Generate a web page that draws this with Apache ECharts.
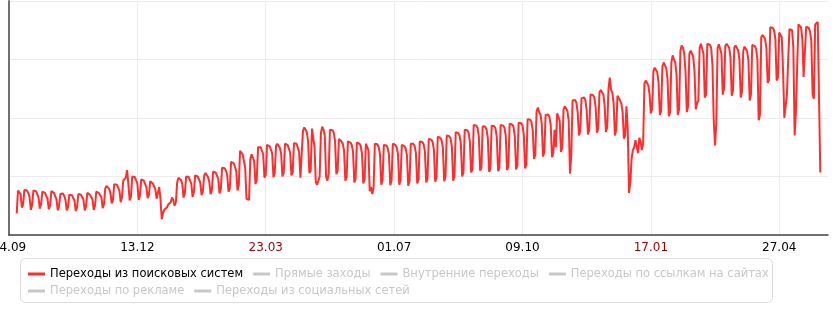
<!DOCTYPE html>
<html>
<head>
<meta charset="utf-8">
<script src="https://cdn.jsdelivr.net/npm/echarts@6/dist/echarts.min.js"></script>
<style>html,body{margin:0;padding:0;background:#fff}#c{width:837px;height:319px}</style>
</head>
<body>
<div id="c"></div>
<script>
// Daily category axis: 04.09.2013 .. 04.06.2015 (639 days)
const startDate = '2013-09-04';
const dayCount = 639;
const tickLabels = ['04.09', '13.12', '23.03', '01.07', '09.10', '17.01', '27.04'];
const weekendTicks = ['23.03', '17.01'];

const seriesNames = [
  'Переходы из поисковых систем',
  'Прямые заходы',
  'Внутренние переходы',
  'Переходы по ссылкам на сайтах',
  'Переходы по рекламе',
  'Переходы из социальных сетей'
];

// Search-engine visits per day (null = no data)
const searchVisits = [
  null,null,null,null,null,null,
  370,760,740,700,470,520,
  770,750,760,720,650,430,510,
  760,740,750,700,640,450,530,
  740,760,720,700,620,440,500,
  750,730,720,690,610,420,500,
  700,690,710,670,600,420,480,
  690,700,680,660,590,410,470,
  700,680,690,650,600,420,490,
  720,700,690,670,610,430,500,
  740,730,720,700,640,460,530,
  800,840,820,790,720,540,600,
  870,880,860,830,760,560,640,
  930,960,980,1110,870,590,660,
  1000,1020,990,960,880,600,670,
  950,960,930,900,820,630,680,
  920,900,880,850,780,620,650,
  820,620,270,380,430,440,470,
  520,510,560,640,600,500,560,
  900,980,960,940,870,640,720,
  1000,1010,990,960,880,650,730,
  1020,1050,1000,980,900,680,740,
  1010,1060,1030,990,910,700,760,
  1080,1100,1070,1040,960,710,780,
  1150,1180,1140,1100,1020,740,790,
  1250,1280,1230,1200,1100,760,850,
  1440,1420,1380,1360,1150,620,590,
  600,1300,1380,1350,1260,870,950,
  1500,1530,1500,1470,1380,980,1030,
  1540,1560,1520,1500,1400,990,1050,
  1520,1560,1550,1490,1390,1000,1060,
  1560,1580,1540,1510,1410,1020,1070,
  1570,1600,1560,1530,1420,980,1000,
  1780,1840,1800,1760,1600,1060,1100,
  1820,1830,1500,900,860,870,1000,
  1750,1850,1800,1700,1000,930,1050,
  1800,1830,1790,1750,1600,1040,1100,
  1640,1620,1600,1560,1450,930,990,
  1600,1610,1580,1540,1420,900,960,
  1580,1590,1560,1520,1380,880,950,
  1560,1570,1450,750,820,700,800,
  1560,1580,1550,1500,1380,860,940,
  1540,1560,1530,1490,1370,850,930,
  1560,1570,1540,1500,1380,860,940,
  1540,1550,1520,1480,1360,840,920,
  1560,1580,1560,1520,1400,880,950,
  1600,1620,1590,1550,1430,900,960,
  1640,1660,1630,1590,1460,910,980,
  1680,1700,1660,1620,1480,920,990,
  1700,1720,1690,1650,1500,930,1000,
  1760,1780,1740,1700,1560,1000,1060,
  1800,1820,1790,1750,1600,1070,1120,
  1880,1900,1870,1830,1680,1100,1150,
  1860,1880,1850,1800,1660,1080,1140,
  1870,1890,1860,1820,1670,1090,1150,
  1880,1900,1870,1830,1690,1110,1170,
  1900,1920,1890,1850,1700,1120,1180,
  1920,1940,1910,1870,1720,1140,1200,
  1980,2000,1970,1930,1780,1300,1380,
  2120,2180,2100,2060,1900,1340,1420,
  2050,2080,2060,2020,1880,1330,1400,
  1800,1500,2080,2100,1950,1420,1500,
  2150,2200,2170,2120,1960,1050,1350,
  2300,2330,2310,2260,2100,1700,1780,
  2340,2370,2350,2300,2140,1720,1800,
  2400,2420,2390,2350,2180,1750,1820,
  2440,2480,2450,2400,2220,1760,1840,
  2500,2690,2480,2430,2250,1700,1800,
  2380,2350,2300,2250,2100,1650,1700,
  2200,1800,720,900,1300,1450,1500,
  1620,1640,1400,1660,1600,1450,1560,
  2590,2640,2600,2560,2400,2080,2150,
  2800,2860,2820,2780,2600,2050,2120,
  2880,2950,2900,2850,2660,2030,2100,
  2950,3070,3000,2950,2750,2050,2150,
  3150,3240,3200,3100,2800,2100,2200,
  3100,3150,3120,3050,2800,2150,2250,
  2300,3200,3270,3240,3100,2350,2400,
  3270,3280,3250,3200,2900,1950,1530,
  1900,3200,3260,3240,3100,2400,2500,
  3230,3270,3240,3200,3050,2380,2470,
  3200,3240,3210,3160,3000,2350,2450,
  3150,3220,3180,3140,2980,2300,2400,
  3250,3280,3230,3180,3000,1960,2050,
  3380,3420,3400,3350,3200,2600,2650,
  3550,3580,3540,3500,3350,2640,2700,
  3460,3440,3380,2800,2000,1990,2400,
  3000,3520,3540,3500,3200,1700,2100,
  2900,3600,3590,3550,3350,2700,2680,
  3560,3580,3540,3480,3320,2400,2330,
  3600,3620,3640,3630,1070,
  null,null,null,null,null,null
];
const otherSeries = [[], [], [], [], []];

const categories = [];
{
  const d0 = new Date(startDate + 'T12:00:00Z');
  for (let i = 0; i < dayCount; i++) {
    const d = new Date(d0.getTime() + i * 86400000);
    const dd = String(d.getUTCDate()).padStart(2, '0');
    const mm = String(d.getUTCMonth() + 1).padStart(2, '0');
    categories.push(dd + '.' + mm);
  }
}

const selected = {};
seriesNames.forEach((n, i) => { selected[n] = i === 0; });

const font = 'DejaVu Sans';
const legendBase = {
  icon: 'rect',
  itemWidth: 17,
  itemHeight: 3,
  itemGap: 10,
  padding: 0,
  orient: 'horizontal',
  inactiveColor: '#c8c8c8',
  selected: selected,
  textStyle: { fontFamily: font, fontSize: 11.5, color: '#000' }
};

const chart = echarts.init(document.getElementById('c'), null, { renderer: 'canvas' });
chart.setOption({
  animation: false,
  textStyle: { fontFamily: font },
  grid: { left: 9, right: 9, top: 1, height: 234, containLabel: false, outerBoundsMode: 'none' },
  graphic: [{
    type: 'rect',
    z: -1,
    shape: { x: 20.5, y: 258.5, width: 752, height: 44, r: 5 },
    style: { fill: '#fff', stroke: '#dcdcdc', lineWidth: 1 }
  }],
  legend: [
    Object.assign({}, legendBase, { data: seriesNames.slice(0, 4), left: 28, top: 268 }),
    Object.assign({}, legendBase, { data: seriesNames.slice(4), left: 28, top: 285 })
  ],
  xAxis: {
    type: 'category',
    data: categories,
    boundaryGap: false,
    axisLine: { show: true, lineStyle: { color: '#444', width: 1.5 } },
    axisTick: { show: false },
    axisLabel: {
      interval: 99,
      margin: 7,
      fontSize: 12,
      fontFamily: font,
      align: 'center',
      alignMinLabel: 'center',
      color: function (value) { return weekendTicks.indexOf(value) >= 0 ? '#990000' : '#000'; }
    },
    splitLine: { show: true, interval: 99, lineStyle: { color: '#ececec', width: 1 } }
  },
  yAxis: {
    type: 'value',
    min: 0,
    max: 4000,
    interval: 1000,
    axisLine: { show: true, lineStyle: { color: '#707070', width: 2 } },
    axisTick: { show: false },
    axisLabel: { show: false },
    splitLine: { show: true, lineStyle: { color: '#ececec', width: 1 } }
  },
  series: [
    {
      name: seriesNames[0],
      type: 'line',
      data: searchVisits,
      showSymbol: false,
      symbol: 'none',
      connectNulls: false,
      lineStyle: { color: '#ff2d2d', width: 2 },
      itemStyle: { color: '#ff2d2d' }
    }
  ].concat(otherSeries.map((arr, i) => ({
    name: seriesNames[i + 1],
    type: 'line',
    data: arr,
    showSymbol: false,
    symbol: 'none',
    lineStyle: { color: '#999', width: 2 },
    itemStyle: { color: '#999' }
  })))
});
</script>
</body>
</html>
